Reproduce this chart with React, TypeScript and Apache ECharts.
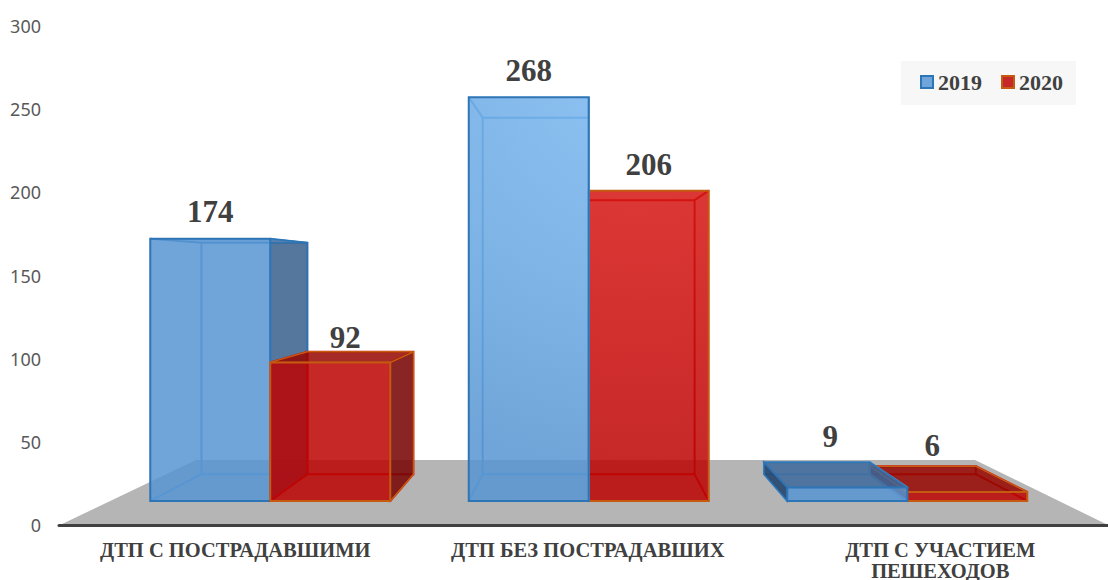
import React, { useEffect, useRef } from "react";
import * as echarts from "echarts";

const categories = ["ДТП С ПОСТРАДАВШИМИ", "ДТП БЕЗ ПОСТРАДАВШИХ", "ДТП С УЧАСТИЕМ\nПЕШЕХОДОВ"];
const values2019 = [174, 268, 9];
const values2020 = [92, 206, 6];
const seriesNames = ["2019", "2020"];

// Perspective of the 3D box: vanishing point and scale of the back plane.
const VANISH = { x: 588, y: 272 };
const BACK_SCALE = 0.883;
const BAR_RATIO = 120 / 318.5;
const SERIF = "'Liberation Serif', serif";

// Hand-placed data label offsets from the centre of the front-top edge.
const label2019 = [[0, -27], [0, -27], [-17, -51]];
const label2020 = [[15, -25], [0, -26], [-35, -46]];

const back = (p: number[]) => [
  VANISH.x + BACK_SCALE * (p[0] - VANISH.x),
  VANISH.y + BACK_SCALE * (p[1] - VANISH.y),
];

const radial = (inner: string, mid: string, outer: string) =>
  new echarts.graphic.RadialGradient(
    640, 70, 400,
    [{ offset: 0, color: inner }, { offset: 0.55, color: mid }, { offset: 1, color: outer }],
    true,
  );

const themes = [
  {
    front: () => radial("rgba(122,184,242,0.85)", "rgba(105,168,226,0.85)", "rgba(87,149,210,0.85)"),
    edge: "#2e75b6",
    inner: "#5b9bd5",
    top: "rgba(60,105,155,0.85)",
    side: "rgba(55,95,140,0.85)",
    sideLeft: "rgba(35,70,110,0.9)",
    legendFill: "#6fa5da",
  },
  {
    front: () => radial("rgba(222,28,26,0.85)", "rgba(205,14,12,0.85)", "rgba(188,2,2,0.85)"),
    edge: "#c55a11",
    inner: "#d0140c",
    top: "rgba(150,5,0,0.85)",
    side: "rgba(120,5,5,0.87)",
    sideLeft: "rgba(120,5,5,0.87)",
    legendFill: "#c62828",
  },
];

const makeRenderItem = (seriesIdx: number, offsets: number[][]) => (params: any, api: any) => {
  const cat = api.value(0);
  const value = api.value(1);
  const base = api.coord([cat, 0]);
  const topPt = api.coord([cat, value]);
  const barW = api.size([1, 0])[0] * BAR_RATIO;
  const x0 = seriesIdx === 0 ? base[0] - barW : base[0];
  const x1 = x0 + barW;
  const yB = base[1];
  const yT = topPt[1];
  const t = themes[seriesIdx];

  const fbl = [x0, yB], fbr = [x1, yB], ftl = [x0, yT], ftr = [x1, yT];
  const bbl = back(fbl), bbr = back(fbr), btl = back(ftl), btr = back(ftr);

  const cx = (x0 + x1) / 2;
  const z2 = 2000 - Math.round(Math.abs(cx - VANISH.x));
  const poly = (points: number[][], style: any) => ({
    type: "polygon", z2, silent: true, shape: { points }, style,
  });
  const wire = (points: number[][], w = 2) => ({
    type: "polyline", z2, silent: true, shape: { points },
    style: { fill: "none", stroke: t.inner, lineWidth: w },
  });

  const children: any[] = [
    wire([bbl, bbr, btr, btl, bbl]),
    wire([fbl, bbl]),
    wire([fbr, bbr]),
    wire([ftl, btl]),
    wire([ftr, btr]),
  ];
  if (x1 < VANISH.x) {
    children.push(poly([fbr, ftr, btr, bbr], { fill: t.side, stroke: t.edge, lineWidth: 1.5 }));
  }
  if (x0 > VANISH.x) {
    children.push(poly([fbl, ftl, btl, bbl], { fill: t.sideLeft, stroke: t.edge, lineWidth: 1.5 }));
  }
  if (yT > VANISH.y) {
    children.push(poly([ftl, ftr, btr, btl], { fill: t.top, stroke: t.edge, lineWidth: 1.5 }));
  } else if (x1 < VANISH.x) {
    children.push(poly([ftl, ftr, btr, btl], { fill: "rgba(91,155,213,0.35)", stroke: t.edge, lineWidth: 1 }));
  }
  children.push(poly([fbl, fbr, ftr, ftl], { fill: t.front(), stroke: t.edge, lineWidth: 2 }));

  const off = offsets[cat];
  children.push({
    type: "text",
    z2: 3000,
    silent: true,
    x: cx + off[0],
    y: yT + off[1],
    style: {
      text: String(value),
      fill: "#404040",
      font: `bold 31px ${SERIF}`,
      align: "center",
      verticalAlign: "middle",
      textAlign: "center",
      textVerticalAlign: "middle",
    },
  });
  return { type: "group", children };
};

const toData = (arr: number[]) => arr.map((v, i) => [i, v]);

export default function App() {
  const ref = useRef<HTMLDivElement>(null);
  useEffect(() => {
    const chart = echarts.init(ref.current!, null, { renderer: "svg" });
    chart.setOption({
      animation: false,
      backgroundColor: "#ffffff",
      grid: [
        { left: 59, top: 26, width: 1057.5, height: 499, containLabel: false, outerBoundsMode: "none" },
        { left: 111, top: 49, width: 955.5, height: 452, containLabel: false, outerBoundsMode: "none" },
      ],
      xAxis: [
        {
          type: "category",
          gridIndex: 0,
          data: categories,
          axisTick: { show: false },
          axisLine: { show: true, lineStyle: { color: "#404040", width: 3 } },
          axisLabel: {
            show: true,
            interval: 0,
            margin: 14,
            color: "#404040",
            fontFamily: SERIF,
            fontWeight: "bold",
            fontSize: 20.5,
            lineHeight: 21,
          },
        },
        { type: "category", gridIndex: 1, data: categories, show: false },
      ],
      yAxis: [
        {
          type: "value",
          gridIndex: 0,
          min: 0,
          max: 300,
          interval: 50,
          axisLine: { show: false },
          axisTick: { show: false },
          splitLine: { show: false },
          axisLabel: { color: "#595959", fontFamily: "'Noto Sans', sans-serif", fontSize: 18, margin: 18 },
        },
        { type: "value", gridIndex: 1, min: 0, max: 300, show: false, splitLine: { show: false } },
      ],
      legend: {
        left: 901,
        top: 61,
        width: 175,
        height: 22,
        padding: [10, 13, 12, 19],
        backgroundColor: "#f7f7f7",
        icon: "rect",
        itemWidth: 12,
        itemHeight: 12,
        itemGap: 19,
        selectedMode: false,
        data: seriesNames,
        textStyle: { color: "#404040", fontFamily: SERIF, fontWeight: "bold", fontSize: 22 },
      },
      graphic: [
        {
          type: "polygon",
          z: 0,
          silent: true,
          shape: { points: [[60, 525], [1108, 525], [975, 460], [196, 460]] },
          style: { fill: "#b5b5b5" },
        },
      ],
      series: [
        {
          type: "custom",
          name: seriesNames[0],
          xAxisIndex: 1,
          yAxisIndex: 1,
          data: toData(values2019),
          encode: { x: 0, y: 1 },
          clip: false,
          itemStyle: { color: themes[0].legendFill, borderColor: themes[0].edge, borderWidth: 2 },
          renderItem: makeRenderItem(0, label2019),
        },
        {
          type: "custom",
          name: seriesNames[1],
          xAxisIndex: 1,
          yAxisIndex: 1,
          data: toData(values2020),
          encode: { x: 0, y: 1 },
          clip: false,
          itemStyle: { color: themes[1].legendFill, borderColor: themes[1].edge, borderWidth: 2 },
          renderItem: makeRenderItem(1, label2020),
        },
      ],
    });
    return () => chart.dispose();
  }, []);
  return (
    <div
      ref={ref}
      style={{ position: "fixed", left: 0, top: 0, width: 1108, height: 580, overflow: "hidden" }}
    />
  );
}
